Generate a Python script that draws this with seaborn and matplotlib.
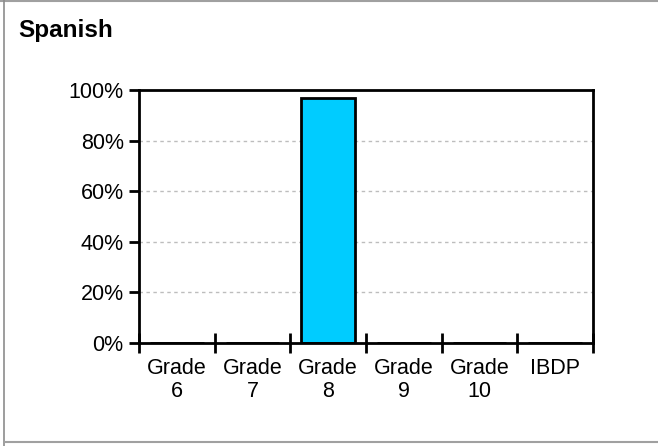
import matplotlib
matplotlib.use("Agg")
import matplotlib.pyplot as plt
from matplotlib.lines import Line2D
from matplotlib.ticker import FixedLocator, PercentFormatter
import seaborn as sns
import pandas as pd

# Share of students by grade level
categories = ["Grade\n6", "Grade\n7", "Grade\n8", "Grade\n9", "Grade\n10", "IBDP"]
values = [0, 0, 97, 0, 0, 0]
y_ticks = [0, 20, 40, 60, 80, 100]
title = "Spanish"

sns.set_theme(style="white")
plt.rcParams["font.family"] = ["Liberation Sans", "DejaVu Sans"]
plt.rcParams["text.color"] = "black"
plt.rcParams["xtick.color"] = "black"
plt.rcParams["ytick.color"] = "black"
plt.rcParams["xtick.labelcolor"] = "black"
plt.rcParams["ytick.labelcolor"] = "black"

df = pd.DataFrame({"grade": categories, "pct": values})

fig = plt.figure(figsize=(6.58, 4.46), dpi=100)
ax = fig.add_axes([139 / 658, 1 - 343 / 446, 454 / 658, 253 / 446])

sns.barplot(data=df, x="grade", y="pct", ax=ax, color="#00CCFF",
            edgecolor="black", linewidth=2.0, width=0.71, saturation=1)

ax.set_xlim(-0.5, len(categories) - 0.5)
ax.set_ylim(0, 100)
ax.set_xlabel("")
ax.set_ylabel("")

# y axis: percent ticks and dotted grid lines
ax.yaxis.set_major_locator(FixedLocator(y_ticks))
ax.yaxis.set_major_formatter(PercentFormatter(decimals=0))
ax.tick_params(axis="y", which="major", direction="out", length=7, width=2,
               color="black", labelcolor="black", labelsize=15.5, pad=4, left=True)
for v in y_ticks[1:-1]:
    ax.axhline(v, color="#bdbdbd", linewidth=1.0, linestyle=(0, (2.5, 2.5)), zorder=0)

# x axis: labels centered, tick marks on category boundaries
ax.set_xticks(range(len(categories)))
ax.set_xticklabels(categories, linespacing=1.08)
ax.set_xticks([i - 0.5 for i in range(len(categories) + 1)], minor=True)
ax.tick_params(axis="x", which="major", length=0, labelsize=15.5,
               labelcolor="black", pad=11)
ax.tick_params(axis="x", which="minor", direction="inout", length=15, width=2,
               color="black", bottom=True)

for s in ax.spines.values():
    s.set_visible(True)
    s.set_color("black")
    s.set_linewidth(2.0)

fig.text(18 / 658, 1 - 31 / 446, title, fontsize=17.5, fontweight="bold",
         color="black", ha="left", va="center")

# frame lines around the figure
frame_color = "#a0a0a0"
fig.add_artist(Line2D([0, 1], [1 - 0.5 / 446, 1 - 0.5 / 446], color=frame_color,
                      linewidth=1.5, transform=fig.transFigure))
fig.add_artist(Line2D([3.5 / 658, 3.5 / 658], [0, 1], color="#8c8c8c",
                      linewidth=1.2, transform=fig.transFigure))
fig.add_artist(Line2D([3.5 / 658, 1], [1 - 442 / 446, 1 - 442 / 446],
                      color=frame_color, linewidth=1.5, transform=fig.transFigure))

fig.savefig("out.png", dpi=100)
